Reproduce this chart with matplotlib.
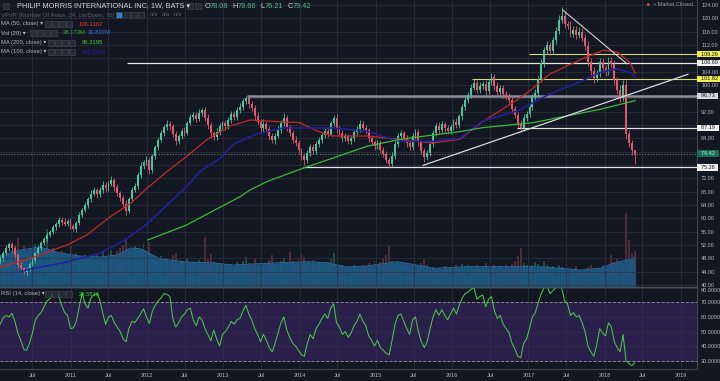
import numpy as np
import pandas as pd
import matplotlib
matplotlib.use('Agg')
import matplotlib.pyplot as plt
import matplotlib.dates as mdates
import matplotlib.transforms as mtransforms
from matplotlib.patches import Rectangle

plt.rcParams['font.family'] = ['Liberation Sans', 'DejaVu Sans']

# PM weekly chart, every second week
start_date = '2010-01-29'
first_open = 47.0
closes = [
    48.0, 49.5, 51.0, 52.3, 51.0, 49.0, 46.0, 45.0, 44.0, 44.8,
    46.3, 47.5, 49.5, 51.2, 52.5, 53.8, 55.0, 56.0, 57.3, 58.2,
    59.6, 59.0, 58.4, 59.2, 57.8, 56.9, 58.5, 61.0, 62.6, 64.0,
    65.7, 67.4, 68.6, 67.2, 68.5, 70.1, 69.0, 70.4, 71.6, 69.3,
    67.5, 66.2, 64.4, 62.3, 65.8, 68.5, 69.7, 73.0, 75.8, 76.9,
    77.6, 74.6, 78.6, 81.4, 83.5, 85.7, 87.3, 88.4, 87.7, 85.2,
    83.2, 84.6, 86.3, 85.7, 88.6, 90.4, 91.0, 89.9, 91.6, 92.4,
    90.2, 88.0, 85.5, 84.3, 86.0, 87.8, 88.5, 87.6, 89.6, 91.2,
    90.4, 92.6, 93.4, 95.2, 96.1, 94.3, 93.0, 90.6, 89.0, 87.0,
    88.4, 86.8, 84.6, 83.4, 84.8, 86.5, 88.7, 90.0, 87.4, 85.6,
    83.6, 82.7, 80.5, 78.6, 77.4, 79.6, 81.3, 80.2, 82.4, 83.5,
    85.0, 86.2, 85.4, 88.6, 90.2, 86.8, 85.6, 84.0, 84.6, 83.2,
    84.0, 85.8, 86.8, 88.4, 87.2, 86.4, 84.0, 82.8, 81.6, 82.5,
    80.6, 79.4, 77.6, 76.2, 78.8, 82.4, 84.8, 85.6, 84.2, 82.6,
    81.5, 84.7, 85.8, 82.8, 80.2, 78.4, 79.6, 82.3, 85.6, 87.7,
    86.4, 88.2, 87.0, 86.2, 87.5, 89.0, 88.0, 90.6, 93.4, 95.6,
    97.0, 99.2, 100.6, 98.6, 99.8, 100.4, 98.2, 101.0, 102.4, 99.8,
    98.0, 99.2, 97.2, 96.6, 95.6, 92.8, 91.0, 88.4, 87.0, 90.2,
    91.3, 93.5, 96.4, 97.6, 101.8, 106.6, 110.4, 112.0, 110.3, 113.4,
    116.3, 119.5, 120.8, 118.2, 117.8, 115.4, 116.6, 115.0, 116.0, 114.2,
    111.8, 107.0, 104.2, 102.0, 103.6, 106.8, 105.0, 104.0, 107.2, 106.2,
    101.4, 98.6, 96.2, 100.0, 85.2, 82.6, 80.4, 79.42,
]
up_wick = [
    0.8, 0.6, 0.9, 0.7, 0.5, 0.8, 0.6, 0.9, 0.5, 0.7,
    0.6, 0.9, 0.5, 0.8, 0.7, 0.6, 1.0, 0.5, 0.8, 0.6,
    0.9, 0.7, 1.1, 0.6, 0.8, 0.5, 0.7, 0.9, 0.6, 0.8,
    0.7, 1.0, 0.8, 0.6, 0.9, 1.1, 0.7, 0.8, 1.0, 0.6,
    0.9, 0.7, 0.8, 1.2, 0.6, 0.9, 1.0, 0.8, 1.1, 0.7,
    1.2, 0.9, 0.8, 0.7, 1.0, 0.9, 0.8, 1.1, 0.9, 0.7,
    1.0, 0.8, 0.9, 1.2, 0.7, 1.0, 0.8, 0.9, 1.1, 0.7,
    0.9, 1.0, 0.8, 0.7, 1.1, 0.9, 0.8, 1.0, 0.7, 0.9,
    1.0, 0.8, 1.1, 0.9, 0.7, 1.0, 0.8, 0.9, 1.2, 0.7,
    1.4, 0.8, 0.9, 1.0, 0.7, 1.1, 0.8, 1.6, 0.9, 0.7,
    0.8, 1.0, 0.9, 0.7, 1.1, 0.8, 0.9, 1.0, 0.7, 0.8,
    1.0, 0.9, 0.8, 0.7, 0.9, 1.0, 0.8, 0.9, 1.1, 0.7,
    0.8, 1.0, 0.9, 1.2, 0.8, 0.9, 0.7, 1.0, 0.8, 0.9,
    1.0, 0.7, 0.9, 0.8, 1.1, 0.9, 0.8, 1.0, 0.7, 0.9,
    1.0, 0.8, 1.1, 0.9, 0.7, 1.0, 0.8, 0.9, 1.0, 0.8,
    1.1, 0.9, 0.8, 1.0, 0.7, 0.9, 1.1, 0.8, 0.9, 1.0,
    0.8, 1.0, 1.2, 0.9, 1.0, 0.8, 1.1, 0.9, 1.3, 0.8,
    1.0, 0.9, 0.8, 1.1, 0.9, 1.0, 0.8, 0.9, 1.0, 1.1,
    0.9, 1.0, 0.8, 1.1, 1.0, 1.2, 0.9, 1.3, 1.0, 1.1,
    1.2, 1.4, 2.7, 1.3, 1.1, 1.4, 1.0, 1.2, 1.3, 1.1,
    1.0, 1.3, 1.1, 1.2, 1.0, 1.4, 1.2, 1.0, 1.3, 1.1,
    1.2, 1.0, 1.3, 1.6, 1.5, 1.2, 1.0, 0.2,
]
dn_wick = [
    0.7, 0.9, 0.6, 0.8, 0.7, 1.0, 0.8, 0.6, 0.7, 0.9,
    0.8, 0.6, 0.9, 0.7, 0.8, 0.6, 0.9, 0.7, 0.6, 0.8,
    0.7, 0.9, 0.8, 0.6, 1.0, 0.8, 0.9, 0.6, 0.7, 0.8,
    0.9, 0.7, 0.8, 1.0, 0.7, 0.9, 1.1, 0.8, 0.7, 1.0,
    0.8, 1.0, 0.9, 1.3, 0.8, 0.9, 0.7, 1.0, 0.8, 0.9,
    0.8, 1.2, 0.9, 0.8, 1.0, 0.7, 0.9, 0.8, 1.1, 0.9,
    1.2, 0.8, 0.9, 1.0, 0.8, 0.7, 1.0, 0.9, 0.8, 1.0,
    0.9, 1.1, 1.5, 0.9, 0.8, 1.0, 0.9, 1.1, 0.8, 0.9,
    0.8, 1.0, 0.9, 0.8, 1.0, 1.1, 0.9, 1.0, 0.8, 1.2,
    0.9, 1.0, 1.1, 0.9, 1.0, 0.8, 0.9, 1.0, 1.1, 0.9,
    1.0, 0.9, 1.1, 1.0, 1.3, 0.8, 0.9, 1.0, 0.8, 0.9,
    0.8, 1.0, 0.9, 0.8, 1.0, 1.1, 0.9, 1.0, 0.8, 0.9,
    1.0, 0.9, 0.8, 1.0, 0.9, 1.1, 1.0, 0.9, 1.1, 0.8,
    1.0, 0.9, 1.1, 1.0, 0.8, 0.9, 1.0, 0.8, 0.9, 1.1,
    1.0, 0.9, 0.8, 1.1, 1.0, 1.5, 0.9, 1.0, 0.8, 0.9,
    1.0, 0.9, 1.0, 0.8, 0.9, 1.0, 0.8, 0.9, 1.0, 0.8,
    0.9, 1.0, 0.8, 1.1, 0.9, 1.0, 1.1, 0.9, 1.0, 1.2,
    1.0, 0.9, 1.1, 1.0, 0.9, 1.2, 1.0, 1.1, 0.8, 0.9,
    1.0, 0.9, 1.1, 0.8, 1.0, 0.9, 1.1, 1.0, 1.2, 0.9,
    1.0, 1.1, 0.9, 1.2, 1.0, 1.1, 1.0, 1.3, 1.0, 1.1,
    1.2, 1.4, 1.1, 1.3, 1.0, 1.1, 1.2, 1.3, 1.0, 1.1,
    1.3, 1.2, 1.4, 1.0, 1.3, 1.2, 1.4, 3.2,
]
# weekly volume, millions
volume = [
    30, 36, 28, 34, 40, 45, 52, 38, 44, 35,
    41, 36, 46, 33, 48, 40, 62, 37, 42, 35,
    31, 38, 28, 35, 44, 30, 36, 33, 29, 34,
    30, 33, 28, 36, 31, 38, 32, 35, 40, 34,
    38, 42, 45, 52, 40, 36, 44, 38, 41, 46,
    35, 48, 32, 30, 28, 33, 27, 30, 26, 34,
    36, 25, 28, 24, 30, 26, 27, 23, 29, 25,
    53, 30, 35, 28, 25, 22, 26, 24, 21, 25,
    22, 27, 24, 28, 32, 26, 24, 30, 23, 27,
    22, 26, 29, 34, 25, 23, 28, 30, 26, 37,
    28, 25, 30, 35, 32, 26, 24, 29, 23, 27,
    25, 22, 27, 30, 36, 24, 21, 23, 19, 22,
    20, 23, 21, 19, 24, 22, 26, 24, 28, 25,
    27, 30, 34, 44, 28, 25, 27, 23, 26, 24,
    22, 25, 23, 21, 26, 30, 24, 19, 21, 18,
    20, 18, 22, 19, 21, 17, 23, 20, 25, 22,
    24, 21, 19, 23, 20, 22, 26, 19, 21, 24,
    20, 22, 19, 23, 21, 25, 28, 33, 42, 26,
    24, 21, 23, 27, 25, 22, 28, 24, 20, 22,
    19, 23, 21, 18, 20, 17, 19, 22, 18, 16,
    18, 21, 24, 20, 17, 19, 23, 18, 22, 34,
    27, 30, 28, 24, 79, 50, 36, 38.2,
]
rsi = [
    55, 59.5, 61, 60, 62.5, 57, 49, 44, 38, 37,
    42, 49, 58, 61, 63, 67, 71, 72.5, 75, 76,
    74, 68, 63, 61, 52, 52.5, 57, 67, 76, 69,
    66, 73, 75, 76, 72, 63, 55, 60, 61, 56,
    53, 50, 45, 43, 52, 57, 56, 59, 62, 65.5,
    60, 55.5, 64, 68, 71, 73, 76, 75.5, 74, 59,
    53, 56, 60, 62, 65, 66, 58, 54, 60, 58,
    52, 48, 43.5, 51, 45, 40, 48, 50, 53, 57,
    55, 58, 59, 64, 68, 62, 58, 52, 48, 43,
    48, 44, 39, 36, 42, 49, 56, 60, 51, 46,
    42, 40, 37, 34, 33, 42, 48, 45, 52, 55,
    59, 62, 59, 66, 69, 56, 53, 48, 50, 46,
    49, 54, 57, 62, 57, 54, 47, 44, 40, 44,
    39, 37, 35, 34, 44, 55, 61, 62, 57, 52,
    48, 58, 60, 50, 43, 39, 43, 52, 60, 65,
    61, 65, 61, 58, 62, 66, 62, 68, 73, 76,
    77, 79, 80, 72, 74, 75, 67, 72, 74, 64,
    59, 61, 55, 52, 49, 42, 38, 33, 32, 42,
    45, 52, 60, 63, 70, 76, 80, 81, 76, 78,
    80, 81, 80, 71, 69, 61, 63, 60, 61, 56,
    50, 40, 36, 33, 41, 52, 49, 47, 56, 53,
    43, 39, 36, 48, 30, 28, 26.5, 28.55,
]

# moving averages read at sparse points (decimal years)
ma50_years = [2010.07, 2010.51, 2010.95, 2011.21, 2011.52, 2011.78, 2012.00, 2012.26, 2012.52,
              2012.79, 2013.09, 2013.35, 2013.57, 2014.00, 2014.23, 2014.44, 2014.88, 2015.32,
              2015.75, 2016.10, 2016.40, 2016.85, 2017.06, 2017.28, 2017.71, 2017.98, 2018.16,
              2018.33, 2018.40]
ma50_vals = [45.3, 48.3, 52.0, 55.0, 60.5, 64.4, 69.0, 74.0, 78.6,
             83.7, 87.7, 89.5, 89.2, 88.7, 86.2, 84.7, 84.7, 83.7,
             82.6, 83.7, 89.0, 95.5, 99.0, 103.3, 107.9, 110.4, 109.9,
             106.8, 103.5]
ma100_years = [2010.34, 2010.47, 2010.93, 2011.38, 2011.71, 2012.00, 2012.17, 2012.52, 2012.69,
               2012.96, 2013.13, 2013.44, 2013.78, 2014.23, 2014.44, 2014.88, 2015.09, 2015.32,
               2015.75, 2016.10, 2016.40, 2016.85, 2017.28, 2017.71, 2017.94, 2018.16, 2018.33,
               2018.40]
ma100_vals = [44.0, 44.8, 46.8, 49.5, 53.5, 58.3, 62.0, 69.5, 74.0,
              78.0, 82.2, 85.3, 87.1, 87.1, 87.1, 86.2, 84.6, 83.1,
              83.1, 84.0, 89.2, 92.2, 97.3, 101.3, 103.8, 104.8, 103.8,
              102.5]
ma200_years = [2012.01, 2012.52, 2012.69, 2013.22, 2013.35, 2013.57, 2014.04, 2014.44, 2014.88,
               2015.32, 2015.75, 2016.10, 2016.40, 2017.06, 2017.50, 2017.94, 2018.24, 2018.40]
ma200_vals = [53.5, 58.0, 60.1, 66.5, 68.5, 71.0, 75.0, 78.1, 81.6,
              83.7, 85.0, 86.0, 87.2, 88.7, 90.7, 92.7, 94.4, 95.3]
volma_years = [2010.07, 2010.34, 2010.60, 2010.86, 2011.12, 2011.38, 2011.61, 2011.78, 2011.91,
               2012.00, 2012.17, 2012.52, 2012.87, 2013.13, 2013.57, 2014.10, 2014.36, 2014.62,
               2014.88, 2015.28, 2015.54, 2015.75, 2016.19, 2017.06, 2017.28, 2017.68, 2017.94,
               2018.11, 2018.29, 2018.40]
volma_vals = [33.2, 39.6, 42.8, 36.4, 33.2, 32.1, 34.2, 41.7, 41.0,
              37.5, 30.0, 26.8, 25.7, 23.5, 25.4, 27.1, 26.0, 21.4,
              22.5, 27.1, 23.5, 20.0, 21.7, 21.7, 21.1, 18.2, 20.0,
              25.4, 28.9, 31.8]

# drawn levels and trendlines
levels = [109.29, 106.60, 101.82, 96.73, 87.19, 75.28]
level_from = [2017.01, 2011.74, 2016.26, 2013.31, 2016.85, 2014.04]
last_price = 79.42
trend_down_years = [2017.45, 2018.29]
trend_down_vals = [122.5, 106.4]
trend_up_years = [2015.62, 2019.09]
trend_up_vals = [75.9, 103.2]

BG = '#131722'
GRID = '#2f3340'
TXT = '#b2b5be'
UP = '#4fc39b'
DN = '#e05a6e'

W, H = 720, 381
base = mdates.date2num(np.datetime64('2010-01-01'))


def yr(v):
    return base + (np.asarray(v, dtype=float) - 2010) * 365.25


def rect(x0, y0, x1, y1):
    return [x0 / W, 1 - y1 / H, (x1 - x0) / W, (y1 - y0) / H]


fig = plt.figure(figsize=(7.2, 3.81), dpi=100, facecolor=BG)
vax = fig.add_axes(rect(0, 0, 697, 287))
ax = fig.add_axes(rect(0, 0, 697, 287), sharex=vax)
rax = fig.add_axes(rect(0, 287, 697, 369), sharex=vax)
vax.set_zorder(1)
ax.set_zorder(2)
ax.set_facecolor('none')
rax.set_facecolor(BG)

dates = pd.date_range(start_date, periods=len(closes), freq='14D')
x = mdates.date2num(dates.to_numpy())
c = np.array(closes)
o = np.r_[first_open, c[:-1]]
cols = np.where(c >= o, UP, DN)
xmin, xmax = yr(2010.073), yr(2019.21)

# volume
vax.bar(x, volume, width=9, color=cols, alpha=0.3, lw=0)
vx = yr(volma_years)
vax.fill_between(vx, volma_vals, color='#1d5a88', alpha=0.88, lw=0)
vax.plot(vx, volma_vals, color='#2a74ad', lw=0.6)
vax.set_ylim(0, 307)
vax.axis('off')

# grid + price
ax.set_axisbelow(True)
ax.grid(True, color=GRID, lw=0.5)
for val, start, colr, lw in zip(levels, level_from,
                                ['#d6d67a', '#e4e4e4', '#d6d67a', '#8c8f99', '#e4e4e4', '#e4e4e4'],
                                [0.8, 0.9, 0.8, 1.8, 0.9, 0.9]):
    ax.hlines(val, yr(start), xmax, color=colr, lw=lw, zorder=2)
ax.axhline(last_price, color='#5f7f78', lw=0.8, ls=(0, (1, 1.5)), zorder=2)

hi = np.maximum(o, c) + np.array(up_wick)
lo = np.minimum(o, c) - np.array(dn_wick)
ax.vlines(x, lo, hi, colors=cols, lw=0.6, zorder=3)
ax.bar(x, np.maximum(np.abs(c - o), 0.15), bottom=np.minimum(o, c), width=9,
       color=cols, lw=0, zorder=3)

ax.plot(yr(ma50_years), ma50_vals, color='#c62828', lw=0.9, zorder=4)
ax.plot(yr(ma100_years), ma100_vals, color='#1f22a0', lw=1.1, zorder=4)
ax.plot(yr(ma200_years), ma200_vals, color='#3cb83c', lw=0.9, zorder=4)
ax.plot(yr(trend_down_years), trend_down_vals, color='#d0d0d0', lw=0.8, zorder=4)
ax.plot(yr(trend_up_years), trend_up_vals, color='#d8d8d8', lw=0.9, zorder=4)

ax.set_xlim(xmin, xmax)
ax.set_ylim(39.4, 125.5)
ax.yaxis.tick_right()
price_ticks = np.arange(40, 125, 4)
hidden = {108, 96, 88, 80, 76}   # covered by the level tags
ax.set_yticks(price_ticks)
ax.set_yticklabels(['' if t in hidden else f'{t:.2f}' for t in price_ticks])
ax.tick_params(axis='y', length=0, pad=3, labelsize=4, labelcolor=TXT)
ax.tick_params(axis='x', length=0, labelbottom=False)
for s in ['top', 'left']:
    ax.spines[s].set_visible(False)
ax.spines['right'].set_color('#434651')
ax.spines['bottom'].set_color('#4a4e5a')
ax.spines['bottom'].set_linewidth(1.0)

# price tags on the axis
blend = mtransforms.blended_transform_factory(ax.transAxes, ax.transData)
tags = [(109.29, '#eeee55', '#131722'), (106.60, '#f0f0f0', '#131722'),
        (101.82, '#eeee55', '#131722'), (96.73, '#d6d8de', '#131722'),
        (87.19, '#f0f0f0', '#131722'), (79.42, '#1e6b55', '#bff0d8'),
        (75.28, '#f0f0f0', '#131722')]
for val, fc, tc in tags:
    ax.text(1.0015, val, f'  {val:.2f}  ', transform=blend, fontsize=4, color=tc,
            va='center', ha='left', zorder=10,
            bbox=dict(boxstyle='square,pad=0.12', fc=fc, ec='none'))

# RSI
rax.axhspan(30, 70, color='#2a1e4a', lw=0, zorder=0)
rax.set_axisbelow(True)
rax.grid(True, color=GRID, lw=0.5)
rax.axhline(70, color='#8e8e9a', lw=0.7, ls=(0, (3, 2)))
rax.axhline(30, color='#8e8e9a', lw=0.7, ls=(0, (3, 2)))
rax.plot(x, rsi, color='#4ccf4c', lw=0.7)
rax.set_ylim(24.3, 80.5)
rax.yaxis.tick_right()
rax.set_yticks([30, 40, 50, 60, 70, 80])
rax.set_yticklabels(['30.0000', '40.0000', '50.0000', '60.0000', '70.0000', ''])
rax.tick_params(axis='y', length=0, pad=3, labelsize=4, labelcolor=TXT)
rax.text(1.0 + 4 / 697, 0.985, '80.0000', transform=rax.transAxes, fontsize=4,
         color=TXT, va='top', ha='left')

tick_pos, tick_lab = [], []
for y in range(2010, 2020):
    for m, lab in [(1, str(y)), (7, 'Jul')]:
        t = mdates.date2num(np.datetime64(f'{y}-{m:02d}-01'))
        if xmin < t < xmax:
            tick_pos.append(t)
            tick_lab.append(lab)
rax.set_xticks(tick_pos)
rax.set_xticklabels(tick_lab)
rax.tick_params(axis='x', length=0, pad=3, labelsize=4, labelcolor=TXT)
rax.set_xlim(xmin, xmax)
for s in ['top', 'left']:
    rax.spines[s].set_visible(False)
rax.spines['right'].set_color('#434651')
rax.spines['bottom'].set_color('#434651')


# header / legend texts
def ftext(px, py, s, **kw):
    kw.setdefault('fontsize', 4.2)
    kw.setdefault('color', TXT)
    fig.text(px / W, 1 - py / H, s, va='center', ha='left', **kw)


def ibox(px, py, fc='#262a35'):
    fig.add_artist(Rectangle((px / W, 1 - (py + 3) / H), 6 / W, 6 / H,
                             transform=fig.transFigure, fc=fc, ec='#4a4e59', lw=0.4))


ibox(3, 6)
ftext(17, 6, 'PHILIP MORRIS INTERNATIONAL INC, 1W, BATS ▾', fontsize=5.3, color='#d1d4dc')
ibox(187, 6)
ibox(195, 6)
for i, (k, v) in enumerate([('O', '78.08'), ('H', '79.66'), ('L', '76.21'), ('C', '79.42')]):
    ftext(205 + i * 27.5, 6, k, fontsize=5.3, color='#d1d4dc')
    ftext(210 + i * 27.5, 6, v, fontsize=5.3, color='#53b987')

ftext(1, 15, 'VPVR (Number Of Rows, 24, Up/Down, 70) ▾', color='#5d606b')
ibox(116, 15, fc='#1e88e5')
for bx in [124, 131, 138]:
    ibox(bx, 15)
for nx in [150, 162, 174]:
    ftext(nx, 15, 'n/a', color='#5d606b')

legend_rows = [
    (24, 'MA (50, close) ▾', 45, [('106.1162', '#e53935', 79)]),
    (33, 'Vol (20) ▾', 30, [('38.173M', '#2db52d', 63), ('31.837M', '#3a6fe0', 88)]),
    (42.5, 'MA (200, close) ▾', 48, [('95.3195', '#4cd137', 82)]),
    (52, 'MA (100, close) ▾', 48, [('102.5291', '#2323b0', 82)]),
]
for py, name, bx0, vals in legend_rows:
    ftext(1, py, name)
    for k in range(4):
        ibox(bx0 + k * 7, py)
    for s, colr, vx0 in vals:
        ftext(vx0, py, s, color=colr)

ftext(1, 294, 'RSI (14, close) ▾')
for k in range(4):
    ibox(45 + k * 7, 294)
ftext(79, 294, '28.5516', color='#4cd137')

ftext(645, 5, '●', fontsize=5, color='#c84a2a')
ftext(654, 5, '• Market Closed', fontsize=4, color='#9598a1')

fig.savefig('out.png', dpi=100, facecolor=BG)
